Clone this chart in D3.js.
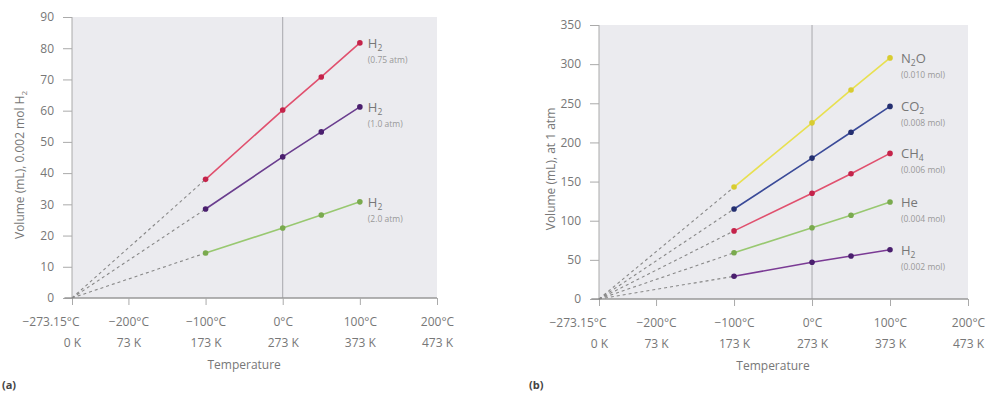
<!DOCTYPE html>
<html><head><meta charset="utf-8">
<script src="https://cdn.jsdelivr.net/npm/d3@7/dist/d3.min.js"></script>
<style>
body{margin:0;background:#fff;}
svg text{font-family:"Open Sans","Noto Sans",sans-serif;}
</style></head>
<body><svg id="c" width="988" height="396"></svg>
<script>
// ---- data ----
const tempsC = [-100, 0, 50, 100];
const xTicksC = [-273.15, -200, -100, 0, 100, 200];
const xTickLabelsC = ["\u2212273.15\u00b0C", "\u2212200\u00b0C", "\u2212100\u00b0C", "0\u00b0C", "100\u00b0C", "200\u00b0C"];
const xTickLabelsK = ["0 K", "73 K", "173 K", "273 K", "373 K", "473 K"];

const leftYTicks = [0, 10, 20, 30, 40, 50, 60, 70, 80, 90];
const leftNames = ["H_2", "H_2", "H_2"];
const leftSubs = ["(0.75 atm)", "(1.0 atm)", "(2.0 atm)"];
const leftH2_075 = [38, 60.2, 70.8, 81.7];
const leftH2_100 = [28.5, 45.2, 53.2, 61.2];
const leftH2_200 = [14.4, 22.4, 26.6, 30.8];

const rightYTicks = [0, 50, 100, 150, 200, 250, 300, 350];
const rightNames = ["N_2O", "CO_2", "CH_4", "He", "H_2"];
const rightSubs = ["(0.010 mol)", "(0.008 mol)", "(0.006 mol)", "(0.004 mol)", "(0.002 mol)"];
const rightN2O = [143, 225, 267, 308];
const rightCO2 = [115, 180, 213, 246];
const rightCH4 = [87, 135, 160, 186];
const rightHe = [59, 91, 107, 124];
const rightH2 = [29, 47, 55, 63];

const svg = d3.select("#c");

function formula(textSel, name, subSize) {
  // "_d" marks a subscript digit
  const parts = name.split(/_(\d+)/);
  let shift = 0;
  parts.forEach((p, k) => {
    if (p === "") return;
    if (k % 2 === 1) {
      textSel.append("tspan").attr("font-size", subSize).attr("dy", 3 - shift).text(p);
      shift = 3;
    } else {
      textSel.append("tspan").attr("dy", -shift).text(p);
      shift = 0;
    }
  });
}

function drawChart(cfg) {
  const g = svg.append("g");
  const x = d3.scaleLinear().domain([-273.15, 200]).range([cfg.x0, cfg.x1]);
  const y = d3.scaleLinear().domain([0, cfg.ymax]).range([cfg.y0, cfg.y1]);

  g.append("rect").attr("x", x(-273.15)).attr("y", y(cfg.ymax))
    .attr("width", x(200) - x(-273.15)).attr("height", y(0) - y(cfg.ymax))
    .attr("fill", "#ebebef");

  // 0 C vertical line
  g.append("line").attr("x1", x(0)).attr("x2", x(0)).attr("y1", y(cfg.ymax)).attr("y2", y(0))
    .attr("stroke", "#a8a8ac").attr("stroke-width", 1);

  // y axis
  const ya = d3.axisLeft(y).tickValues(cfg.yTicks).tickSize(9).tickPadding(9);
  const yg = g.append("g").attr("transform", `translate(${x(-273.15)},0)`).call(ya);
  yg.select(".domain").attr("stroke", "#aaa").attr("d", `M0,${y(cfg.ymax)}V${y(0)}`);
  yg.selectAll(".tick line").attr("stroke", "#aaa");
  yg.selectAll(".tick text").attr("fill", "#777").attr("font-size", 12);

  // x axis
  const xa = d3.axisBottom(x).tickValues(xTicksC).tickSize(7).tickFormat((d, i) => xTickLabelsC[i]);
  const xg = g.append("g").attr("transform", `translate(0,${y(0)})`).call(xa);
  xg.select(".domain").attr("stroke", "#999").attr("stroke-width", 1.5).attr("d", `M${x(-283)},0H${x(200)}`);
  xg.selectAll(".tick line").attr("stroke", "#aaa");
  xg.selectAll(".tick text").attr("fill", "#777").attr("font-size", 12).attr("y", 19).attr("dy", "0.71em")
    .attr("text-anchor", (d, i) => i === 0 ? "end" : "middle")
    .attr("x", (d, i) => i === 0 ? 7 : 0);
  xg.selectAll(".tick").append("text").attr("fill", "#777").attr("font-size", 12)
    .attr("y", 49).attr("text-anchor", "middle").text((d, i) => xTickLabelsK[i]);

  g.append("text").attr("x", x(-50)).attr("y", y(0) + 71).attr("text-anchor", "middle")
    .attr("fill", "#777").attr("font-size", 12).text("Temperature");

  // y title
  const yt = g.append("text").attr("transform", `translate(${cfg.ytx},${cfg.yty}) rotate(-90)`)
    .attr("text-anchor", "middle").attr("fill", "#777").attr("font-size", 12);
  formula(yt, cfg.yTitle, 8);

  g.append("text").attr("x", cfg.tagX).attr("y", 389).attr("fill", "#444").attr("font-size", 11)
    .attr("font-weight", "bold").text(cfg.tag);

  const line = d3.line().x(d => x(d[0])).y(d => y(d[1]));
  cfg.series.forEach((s, i) => {
    const pts = tempsC.map((t, j) => [t, s.values[j]]);
    g.append("path").datum([[-273.15, 0], pts[0]]).attr("d", line)
      .attr("fill", "none").attr("stroke", "#888").attr("stroke-width", 1.1).attr("stroke-dasharray", "3,3");
    g.append("path").datum(pts).attr("d", line).attr("fill", "none")
      .attr("stroke", s.color).attr("stroke-width", 1.6);
    g.selectAll(null).data(pts).enter().append("circle")
      .attr("cx", d => x(d[0])).attr("cy", d => y(d[1])).attr("r", 2.8).attr("fill", s.dot);
    const last = pts[pts.length - 1];
    const lt = g.append("text").attr("x", x(last[0]) + cfg.lblDx).attr("y", y(last[1]) + 5)
      .attr("fill", "#777").attr("font-size", 13);
    formula(lt, s.name, 8.5);
    g.append("text").attr("x", x(last[0]) + cfg.lblDx).attr("y", y(last[1]) + 20)
      .attr("fill", "#999").attr("font-size", 8.5).text(s.sub);
  });
}

drawChart({
  x0: 72, x1: 437, y0: 298, y1: 17, ymax: 90, yTicks: leftYTicks, lblDx: 8,
  yTitle: "Volume (mL), 0.002 mol H_2", ytx: 24, yty: 165, tag: "(a)", tagX: 2,
  series: [
    {values: leftH2_075, color: "#e0506e", dot: "#c4234a", name: leftNames[0], sub: leftSubs[0]},
    {values: leftH2_100, color: "#6a3d8e", dot: "#4a1f6e", name: leftNames[1], sub: leftSubs[1]},
    {values: leftH2_200, color: "#98c870", dot: "#7aaa4e", name: leftNames[2], sub: leftSubs[2]}
  ]
});

drawChart({
  x0: 599, x1: 968, y0: 299, y1: 25, ymax: 350, yTicks: rightYTicks, lblDx: 11,
  yTitle: "Volume (mL), at 1 atm", ytx: 555, yty: 169, tag: "(b)", tagX: 529,
  series: [
    {values: rightN2O, color: "#e8e050", dot: "#d8cc30", name: rightNames[0], sub: rightSubs[0]},
    {values: rightCO2, color: "#3a4a98", dot: "#242f70", name: rightNames[1], sub: rightSubs[1]},
    {values: rightCH4, color: "#e0506e", dot: "#c4234a", name: rightNames[2], sub: rightSubs[2]},
    {values: rightHe, color: "#98c870", dot: "#7aaa4e", name: rightNames[3], sub: rightSubs[3]},
    {values: rightH2, color: "#7a3a94", dot: "#4a1f6e", name: rightNames[4], sub: rightSubs[4]}
  ]
});
</script></body></html>
